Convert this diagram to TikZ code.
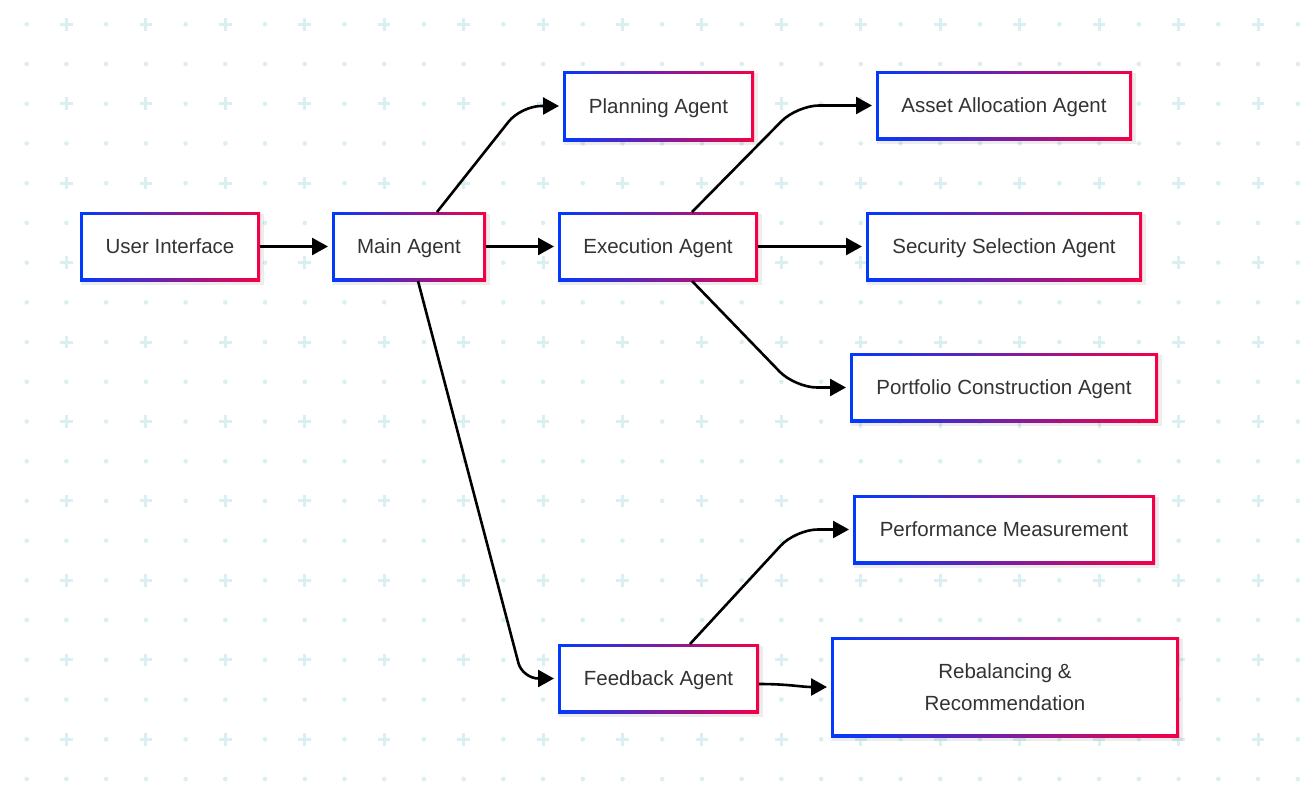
\documentclass[tikz,border=0pt]{standalone}
\usepackage{fontspec}
\setmainfont{Liberation Sans}
\usetikzlibrary{arrows.meta}
\definecolor{gridc}{RGB}{218,239,242}
\definecolor{bL}{RGB}{0,58,255}
\definecolor{bR}{RGB}{245,0,70}
\definecolor{txt}{RGB}{51,51,51}
\tikzset{
  boxtext/.style={inner sep=0pt, outer sep=0pt, text=txt, align=center,
    font=\fontsize{20.5}{32}\selectfont, text height=14.7pt, text depth=0pt},
  twoline/.style={text height=46.7pt, text depth=0pt},
  arr/.style={line width=2.6pt, -{Triangle[length=16pt,width=17pt]}, shorten >=4pt, black},
}
\newcommand\gbox[7][]{%
  \fill[black, opacity=0.07] (#3+1,#4+2) rectangle (#5+4,#6+4);
  \shade[left color=bL, right color=bR] (#3,#4) rectangle (#5,#6);
  \fill[white] (#3+3,#4+3) rectangle (#5-3,#6-3);
  \node[boxtext, #1, minimum width={(#5-#3)*1pt}, minimum height={(#6-#4)*1pt}] (#2) at ({(#3+#5)/2},{(#4+#6)/2}) {#7};
}
\begin{document}
\begin{tikzpicture}[x=1pt,y=-1pt]
\useasboundingbox (0,0) rectangle (1314,788);
\fill[white] (0,0) rectangle (1314,788);
% background grid
\foreach \i in {0,...,32}{
  \foreach \j in {0,...,19}{
    \pgfmathsetmacro\gx{26.7+39.72*\i}
    \pgfmathsetmacro\gy{24.3+39.72*\j}
    \ifodd\i\relax
      \ifodd\j\relax
        \fill[gridc] (\gx,\gy) circle (2.3pt);
      \else
        \draw[gridc, line width=3pt] (\gx-6.3,\gy) -- (\gx+6.3,\gy) (\gx,\gy-6.3) -- (\gx,\gy+6.3);
      \fi
    \else
      \fill[gridc] (\gx,\gy) circle (2.3pt);
    \fi
  }
}
% boxes
\gbox{ui}{80}{212}{260}{281}{User Interface}
\gbox{main}{332}{212}{486}{281}{Main Agent}
\gbox{plan}{563}{71}{754}{141}{Planning Agent}
\gbox{exec}{558}{212}{758}{281}{Execution Agent}
\gbox{asset}{876}{71}{1132}{140}{Asset Allocation Agent}
\gbox{sec}{866}{212}{1142}{281}{Security Selection Agent}
\gbox{port}{850}{353}{1158}{422}{Portfolio Construction Agent}
\gbox{perf}{853}{495}{1155}{564}{Performance Measurement}
\gbox{feed}{558}{644}{759}{713}{Feedback Agent}
\gbox[twoline]{rebal}{831}{637}{1179}{737}{Rebalancing \&\\Recommendation}
% connectors
\draw[arr] (ui.east) -- (main.west);
\draw[arr] (main.east) -- (exec.west);
\draw[arr] (exec.east) -- (sec.west);
\draw[arr, rounded corners=20pt] ([xshift=28pt]main.north) -- (521,106) -- (plan.west);
\draw[arr, rounded corners=22pt] ([xshift=34pt]exec.north) -- (797,105.5) -- (asset.west);
\draw[arr, rounded corners=22pt] ([xshift=34pt]exec.south) -- (795,387.5) -- (port.west);
\draw[arr, rounded corners=16pt] ([xshift=9pt]main.south) -- (522.5,678.5) -- (feed.west);
\draw[arr, rounded corners=22pt] ([xshift=31.5pt]feed.north) -- (795.6,529.5) -- (perf.west);
\draw[arr] ([yshift=-5.5pt]feed.east) .. controls +(30,0) and +(-30,0) .. (rebal.west);
\end{tikzpicture}
\end{document}
